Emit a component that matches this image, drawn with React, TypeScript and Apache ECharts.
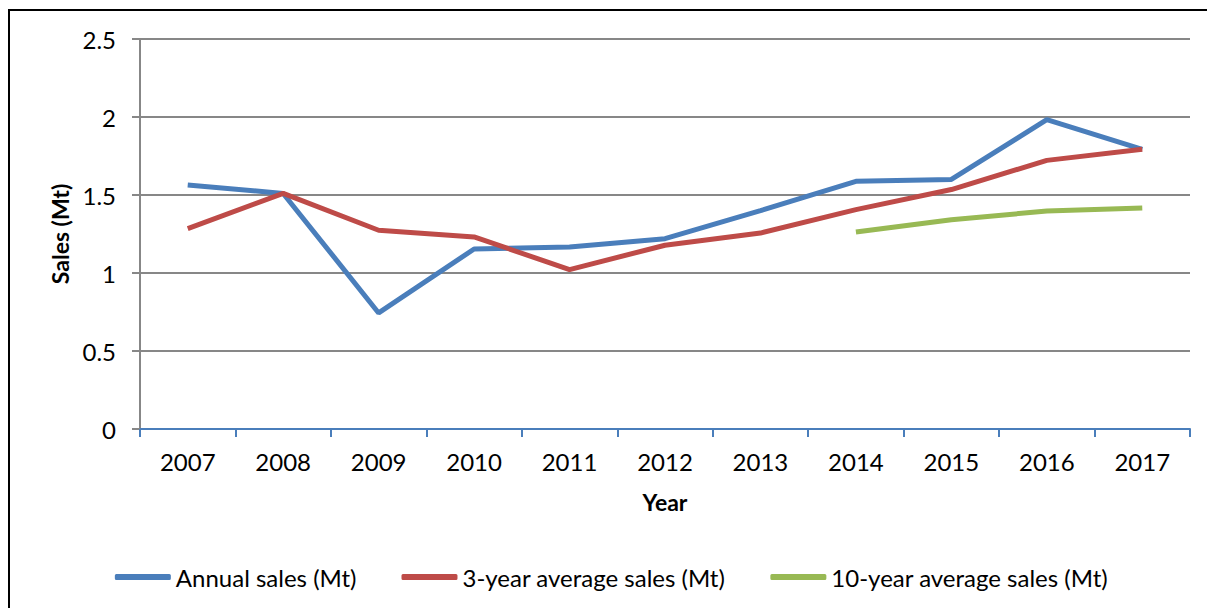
import React, { useEffect, useRef } from "react";
import * as echarts from "echarts";

const years = ["2007", "2008", "2009", "2010", "2011", "2012", "2013", "2014", "2015", "2016", "2017"];
const annualSales = [1.564, 1.51, 0.744, 1.154, 1.167, 1.22, 1.4, 1.588, 1.6, 1.983, 1.793];
const threeYearAvg = [1.285, 1.51, 1.274, 1.231, 1.022, 1.178, 1.256, 1.406, 1.535, 1.722, 1.793];
const tenYearAvg = [null, null, null, null, null, null, null, 1.263, 1.342, 1.397, 1.417];

const FONT = "Lato";

export default function App() {
  const ref = useRef<HTMLDivElement>(null);
  useEffect(() => {
    if (!ref.current) return;
    const chart = echarts.init(ref.current, null, { renderer: "svg" });
    const mk = (name: string, data: (number | null)[], color: string) => ({
      name,
      type: "line",
      data,
      symbol: "none",
      connectNulls: false,
      lineStyle: { color, width: 5 },
      itemStyle: { color },
    });
    chart.setOption({
      animation: false,
      backgroundColor: "#ffffff",
      textStyle: { fontFamily: FONT },
      graphic: [
        {
          type: "rect",
          shape: { x: 1, y: 2, width: 3000, height: 3000 },
          style: { fill: "none", stroke: "#000000", lineWidth: 2 },
          silent: true,
        },
      ],
      grid: { left: 132, top: 31, width: 1050, height: 390 },
      xAxis: {
        type: "category",
        data: years,
        boundaryGap: true,
        name: "Year",
        nameLocation: "middle",
        nameGap: 61,
        nameTextStyle: { fontFamily: FONT, fontSize: 23, fontWeight: "bold", color: "#000" },
        axisLine: { lineStyle: { color: "#4a7ebb", width: 2 } },
        axisTick: { show: true, alignWithLabel: false, length: 8, lineStyle: { color: "#4a7ebb", width: 2 } },
        axisLabel: { fontFamily: FONT, fontSize: 24, color: "#000", margin: 20, interval: 0 },
        splitLine: { show: false },
      },
      yAxis: {
        type: "value",
        min: 0,
        max: 2.5,
        interval: 0.5,
        name: "Sales (Mt)",
        nameLocation: "middle",
        nameGap: 66,
        nameTextStyle: { fontFamily: FONT, fontSize: 23, fontWeight: "bold", color: "#000" },
        axisLine: { show: true, lineStyle: { color: "#878787", width: 2 } },
        axisTick: { show: true, length: 8, lineStyle: { color: "#878787", width: 2 } },
        axisLabel: { fontFamily: FONT, fontSize: 24, color: "#000", margin: 24 },
        splitLine: { show: true, lineStyle: { color: "#878787", width: 2 } },
      },
      legend: {
        left: "center",
        top: 552,
        itemWidth: 56,
        itemHeight: 6,
        itemGap: 45,
        icon: "roundRect",
        textStyle: { fontFamily: FONT, fontSize: 24, color: "#000" },
        data: ["Annual sales (Mt)", "3-year average sales (Mt)", "10-year average sales (Mt)"],
      },
      series: [
        mk("Annual sales (Mt)", annualSales, "#4a7ebb"),
        mk("3-year average sales (Mt)", threeYearAvg, "#be4b48"),
        mk("10-year average sales (Mt)", tenYearAvg, "#98b954"),
      ],
    });
    return () => chart.dispose();
  }, []);
  return <div ref={ref} style={{ width: 1207, height: 600 }} />;
}
